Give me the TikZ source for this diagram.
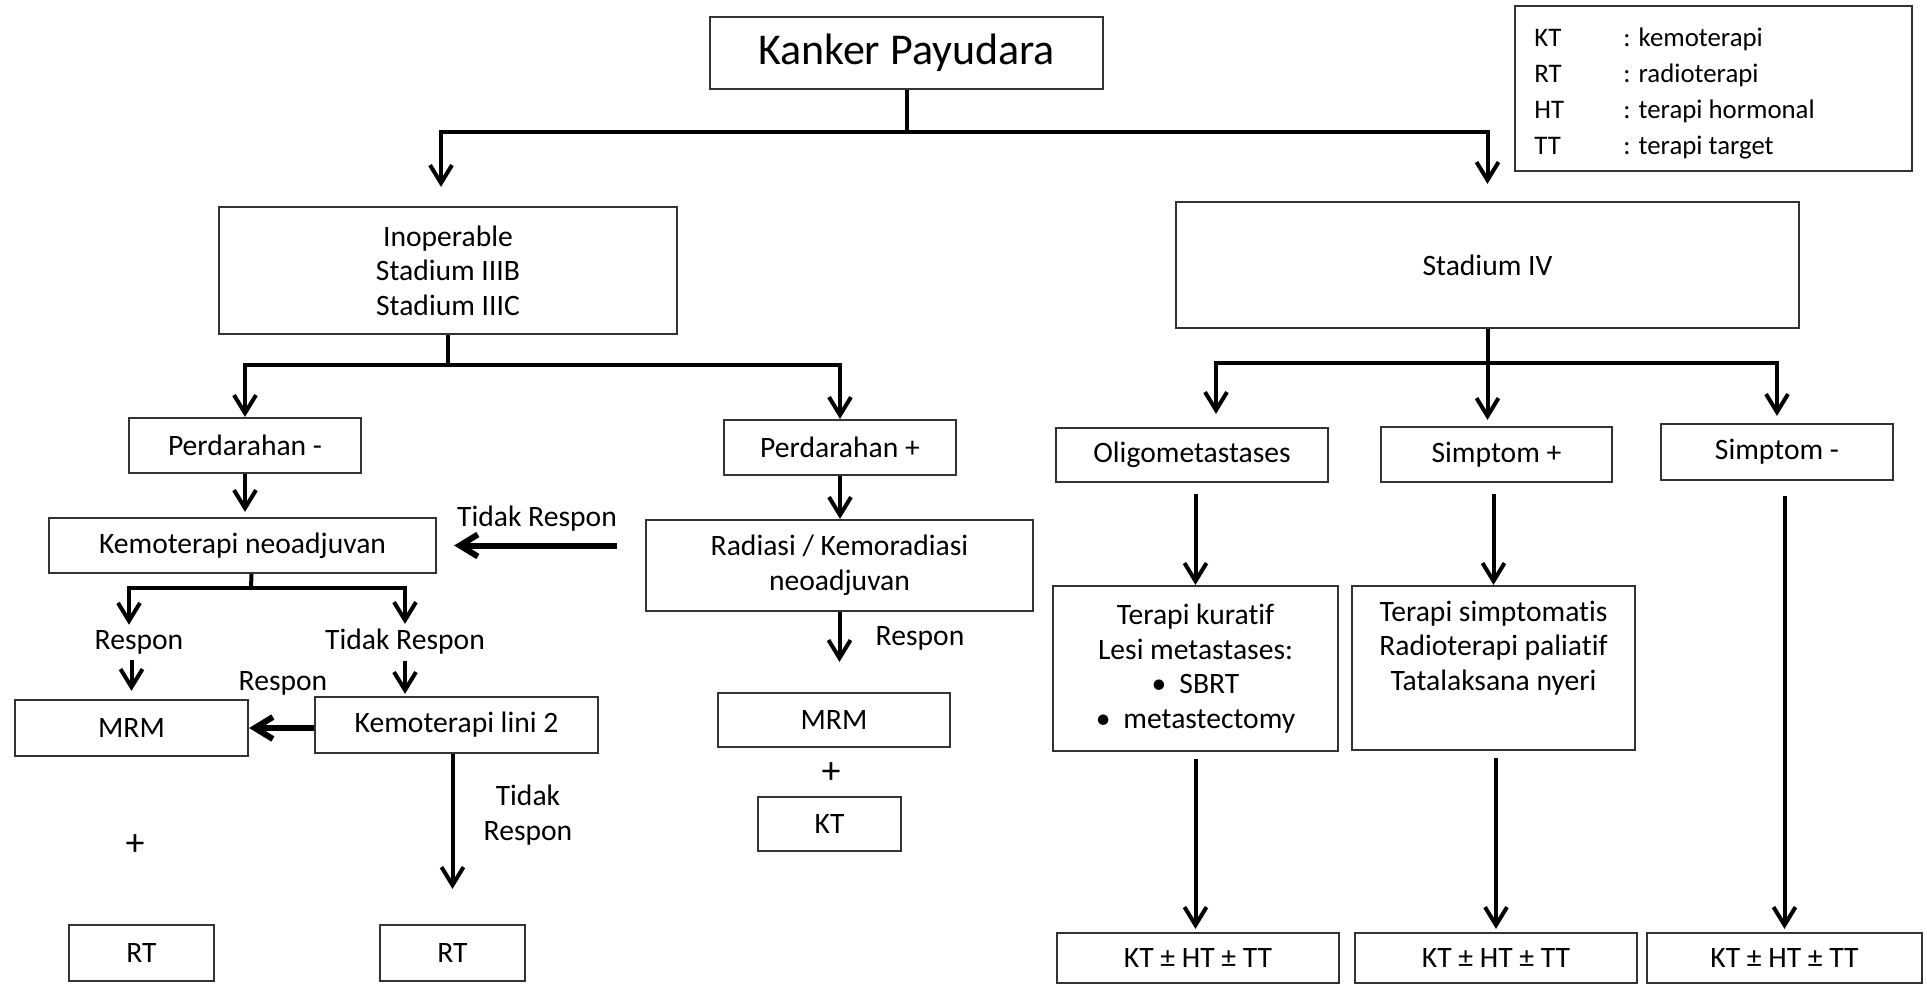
\documentclass[tikz,border=0pt]{standalone}
\usepackage{fontspec}
\setmainfont{Carlito}[Ligatures=NoCommon]
\usetikzlibrary{arrows.meta}

\newcommand\bodyfont{\fontsize{14.8}{17.25}\selectfont}
\newcommand\titlefont{\fontsize{22}{26}\selectfont}
\newcommand\legfont{\fontsize{13.4}{18}\selectfont}
\newcommand\plusfont{\fontsize{19}{22}\selectfont}

\begin{document}
\begin{tikzpicture}[x=0.5pt, y=-0.5pt,
  box/.style={draw=black!80, line width=1.1pt, inner sep=0pt, align=center, font=\bodyfont},
  lbl/.style={inner sep=0pt, align=center, font=\bodyfont},
  link/.style={line width=2pt},
  arr/.style={line width=2pt, -{Straight Barb[length=9pt,width=11pt]}}]
\useasboundingbox (0,0) rectangle (1927,985);

% boxes
\node[box, font=\titlefont, minimum width=196.5pt, minimum height=36pt] (kanker) at (906.5,53) {Kanker Payudara};
\node[box, minimum width=229pt, minimum height=63.5pt] (inop) at (448,270.5) {Inoperable\\Stadium IIIB\\Stadium IIIC};
\node[box, minimum width=311.5pt, minimum height=63pt] (st4) at (1487.5,265) {Stadium IV};

\node[box, minimum width=116pt, minimum height=27.5pt] (pminus) at (245,445.5) {Perdarahan -};
\node[box, minimum width=116pt, minimum height=27.5pt] (pplus) at (840,447.5) {Perdarahan +};
\node[box, minimum width=193.5pt, minimum height=27.5pt] (kemo) at (242.5,545.5) {Kemoterapi neoadjuvan};
\node[box, minimum width=193.5pt, minimum height=45.5pt] (rad) at (839.5,565.5) {Radiasi / Kemoradiasi\\neoadjuvan};
\node[box, minimum width=116.5pt, minimum height=28pt] (mrm1) at (131.5,728) {MRM};
\node[box, minimum width=141.5pt, minimum height=28pt] (lini2) at (456.5,725) {Kemoterapi lini 2};
\node[box, minimum width=72.5pt, minimum height=28pt] (rt1) at (141.5,953) {RT};
\node[box, minimum width=72.5pt, minimum height=28pt] (rt2) at (452.5,953) {RT};
\node[box, minimum width=116pt, minimum height=27pt] (mrm2) at (834,720) {MRM};
\node[box, minimum width=71.5pt, minimum height=27pt] (kt) at (829.5,824) {KT};

\node[box, minimum width=136pt, minimum height=27pt] (olig) at (1192,455) {Oligometastases};
\node[box, minimum width=115.5pt, minimum height=27.5pt] (splus) at (1496.5,454.5) {Simptom +};
\node[box, minimum width=116pt, minimum height=28pt] (sminus) at (1777,452) {Simptom -};
\node[box, minimum width=142.5pt, minimum height=82.5pt] (kuratif) at (1195.5,668.5) {Terapi kuratif\\Lesi metastases:\\•\hspace{6.5pt}SBRT\\•\hspace{6.5pt}metastectomy};
\node[box, minimum width=141.5pt, minimum height=82pt] (simpto) at (1493.5,668) {Terapi simptomatis\\Radioterapi paliatif\\Tatalaksana nyeri\\\strut};
\node[box, minimum width=141pt, minimum height=25pt] (ktht1) at (1198,958) {KT ± HT ± TT};
\node[box, minimum width=141pt, minimum height=25pt] (ktht2) at (1496,958) {KT ± HT ± TT};
\node[box, minimum width=137.5pt, minimum height=25pt] (ktht3) at (1784.5,958) {KT ± HT ± TT};

% legend
\node[box, minimum width=198.5pt, minimum height=82.5pt] (legend) at (1713.5,88.5) {};
\node[anchor=west, inner sep=0pt, font=\legfont] (legtxt) at (1534,92.8) {\begin{tabular}{@{}p{44.5pt}@{}l@{}}KT & : kemoterapi\\ RT & : radioterapi\\ HT & : terapi hormonal\\ TT & : terapi target\end{tabular}};

% labels
\node[lbl] (tr1) at (537,519) {Tidak Respon};
\node[lbl] (rsp1) at (139,642) {Respon};
\node[lbl] (tr2) at (405,642) {Tidak Respon};
\node[lbl] (rsp2) at (283,683) {Respon};
\node[lbl] (tr3) at (528,815) {Tidak\\Respon};
\node[lbl] (rsp3) at (920,638) {Respon};
\node[lbl, font=\plusfont] (plus1) at (135,845) {+};
\node[lbl, font=\plusfont] (plus2) at (831,773) {+};

\coordinate (j1) at (906.5,132);
\coordinate (j2) at (448,365);
\coordinate (j3) at (1487.5,363);
\coordinate (j4) at (251,588);

% connectors
\draw[link] (kanker.south) -- (j1);
\draw[arr, shorten >=9.5pt] (j1) -| ([xshift=-3.5pt]inop.north);
\draw[arr, shorten >=8.5pt] (j1) -| (st4.north);

\draw[link] (inop.south) -- (j2);
\draw[arr] (j2) -| (pminus.north);
\draw[arr] (j2) -| (pplus.north);

\draw[arr, shorten >=3pt] (st4.south) -- (st4.south |- splus.north);
\draw[arr, shorten >=6.5pt] (j3) -| ([xshift=12pt]olig.north);
\draw[arr, shorten >=3.5pt] (j3) -| (sminus.north);

\draw[arr, shorten >=2.5pt] (pminus.south) -- (pminus.south |- kemo.north);
\draw[arr] (pplus.south) -- (pplus.south |- rad.north);
\draw[arr, line width=3pt, shorten <=14pt, shorten >=8.5pt] (rad.west |- kemo.east) -- (kemo.east);

\draw[link] ([xshift=4.5pt]kemo.south) -- (j4);
\draw[arr, shorten >=2.5pt] (j4) -| ([xshift=-5pt]rsp1.north);
\draw[arr, shorten >=2.5pt] (j4) -| (tr2.north);
\draw[arr, shorten <=2.75pt, shorten >=4pt] (mrm1.north |- rsp1.south) -- (mrm1.north);
\draw[arr, shorten <=2.75pt, shorten >=1pt] (tr2.south) -- (tr2.south |- lini2.north);
\draw[arr, line width=3pt] (lini2.west |- mrm1.east) -- (mrm1.east);
\draw[arr, shorten >=17.5pt] (lini2.south -| rt2.north) -- (rt2.north);
\draw[arr, shorten >=15pt] (rad.south) -- (rad.south |- mrm2.north);

\draw[arr, shorten <=5.5pt] (kuratif.north |- olig.south) -- (kuratif.north);
\draw[arr, shorten <=5.5pt] (simpto.north |- splus.south) -- (simpto.north);
\draw[arr, shorten <=3.5pt, shorten >=1.5pt] (kuratif.south) -- (kuratif.south |- ktht1.north);
\draw[arr, shorten <=3.5pt, shorten >=1.5pt] (ktht2.north |- simpto.south) -- (ktht2.north);
\draw[arr, shorten <=7.5pt, shorten >=1.5pt] (ktht3.north |- sminus.south) -- (ktht3.north);
\end{tikzpicture}
\end{document}
